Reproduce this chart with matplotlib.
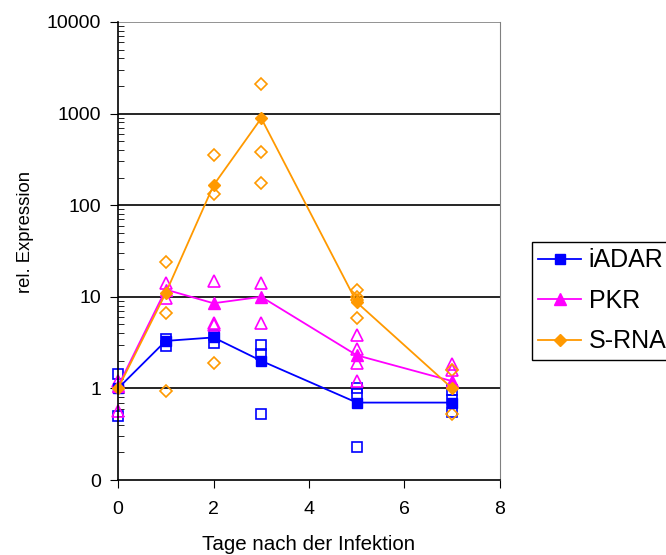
import numpy as np
import matplotlib
matplotlib.use('Agg')
import matplotlib.pyplot as plt
from matplotlib.ticker import FixedLocator, FixedFormatter, LogLocator, NullFormatter

plt.rcParams['font.family'] = ['Liberation Sans', 'DejaVu Sans']

# mittelwerte
days = [0, 1, 2, 3, 5, 7]
iadar_mean = [1.0, 3.3, 3.6, 2.0, 0.7, 0.7]
pkr_mean = [1.05, 12, 8.5, 10, 2.3, 1.2]
srna_mean = [1.0, 11, 165, 890, 8.7, 1.0]

# einzelwerte
iadar_x = [0, 0, 1, 1, 2, 2, 3, 3, 3, 5, 5, 5, 7, 7, 7]
iadar_y = [1.42, 0.5, 2.9, 3.5, 3.1, 3.8, 2.95, 2.4, 0.53, 1.0, 0.86, 0.23, 0.95, 0.55, 0.75]
pkr_x = [0, 0, 1, 1, 2, 2, 2, 3, 3, 5, 5, 5, 5, 7, 7]
pkr_y = [1.2, 0.56, 14, 9.7, 14.7, 5.2, 4.9, 14, 5.2, 3.8, 2.7, 1.9, 1.2, 1.85, 1.6]
srna_x = [1, 1, 1, 2, 2, 2, 3, 3, 3, 5, 5, 5, 5, 7, 7]
srna_y = [24, 6.6, 0.93, 350, 134, 1.9, 2100, 385, 173, 12, 10, 9.3, 5.9, 1.57, 0.52]

yticks = [0.1, 1, 10, 100, 1000, 10000]
ylabels = ['0', '1', '10', '100', '1000', '10000']

fig = plt.figure(figsize=(6.66, 5.55), dpi=100)
ax = fig.add_axes([118/666, 1-480/555, 382/666, 458/555])

ax.plot(iadar_x, iadar_y, 's', mfc='none', mec='#0000ff', ms=6.5, mew=1.2, clip_on=False)
ax.plot(pkr_x, pkr_y, '^', mfc='none', mec='#ff00ff', ms=8, mew=1.2, clip_on=False)
ax.plot(srna_x, srna_y, 'D', mfc='none', mec='#ff9900', ms=6, mew=1.2, clip_on=False)

ax.plot(days, iadar_mean, '-s', color='#0000ff', ms=6.5, lw=1.3, label='iADAR', clip_on=False)
ax.plot(days, pkr_mean, '-^', color='#ff00ff', ms=8, lw=1.3, label='PKR', clip_on=False)
ax.plot(days, srna_mean, '-D', color='#ff9900', ms=6, lw=1.3, label='S-RNA', clip_on=False)

ax.set_yscale('log')
ax.set_ylim(0.1, 10000)
ax.set_xlim(0, 8)
ax.set_xticks([0, 2, 4, 6, 8])
ax.yaxis.set_major_locator(FixedLocator(yticks))
ax.yaxis.set_major_formatter(FixedFormatter(ylabels))
ax.yaxis.set_minor_locator(LogLocator(base=10, subs=np.arange(2, 10)))
ax.yaxis.set_minor_formatter(NullFormatter())

# gitterlinien
for v in yticks[1:]:
    ax.axhline(v, color='#808080' if v == 10000 else 'black', lw=1.2, zorder=0)

ax.spines['top'].set_visible(False)
ax.spines['right'].set_color('#808080')
ax.spines['left'].set_linewidth(1.2)
ax.spines['bottom'].set_linewidth(1.2)
ax.tick_params(axis='y', which='major', direction='out', length=6, labelsize=14, pad=6)
ax.tick_params(axis='y', which='minor', direction='in', length=4)
ax.tick_params(axis='x', direction='out', length=6, labelsize=14, pad=9)

ax.set_xlabel('Tage nach der Infektion', fontsize=14.8)
ax.xaxis.set_label_coords(0.5, -(545-480)/458)
ax.xaxis.label.set_va('center')
ax.set_ylabel('rel. Expression', fontsize=13.3)
ax.yaxis.set_label_coords((25-118)/382, (480-232)/458)
ax.yaxis.label.set_va('center')

ax.legend(loc='upper left', bbox_to_anchor=(532/666, 1-242/555), bbox_transform=fig.transFigure,
          fontsize=18, frameon=True, fancybox=False, edgecolor='black', framealpha=1,
          handlelength=1.7, borderpad=0.25, labelspacing=0.66, handletextpad=0.32,
          borderaxespad=0)

fig.savefig('out.png', dpi=100)
